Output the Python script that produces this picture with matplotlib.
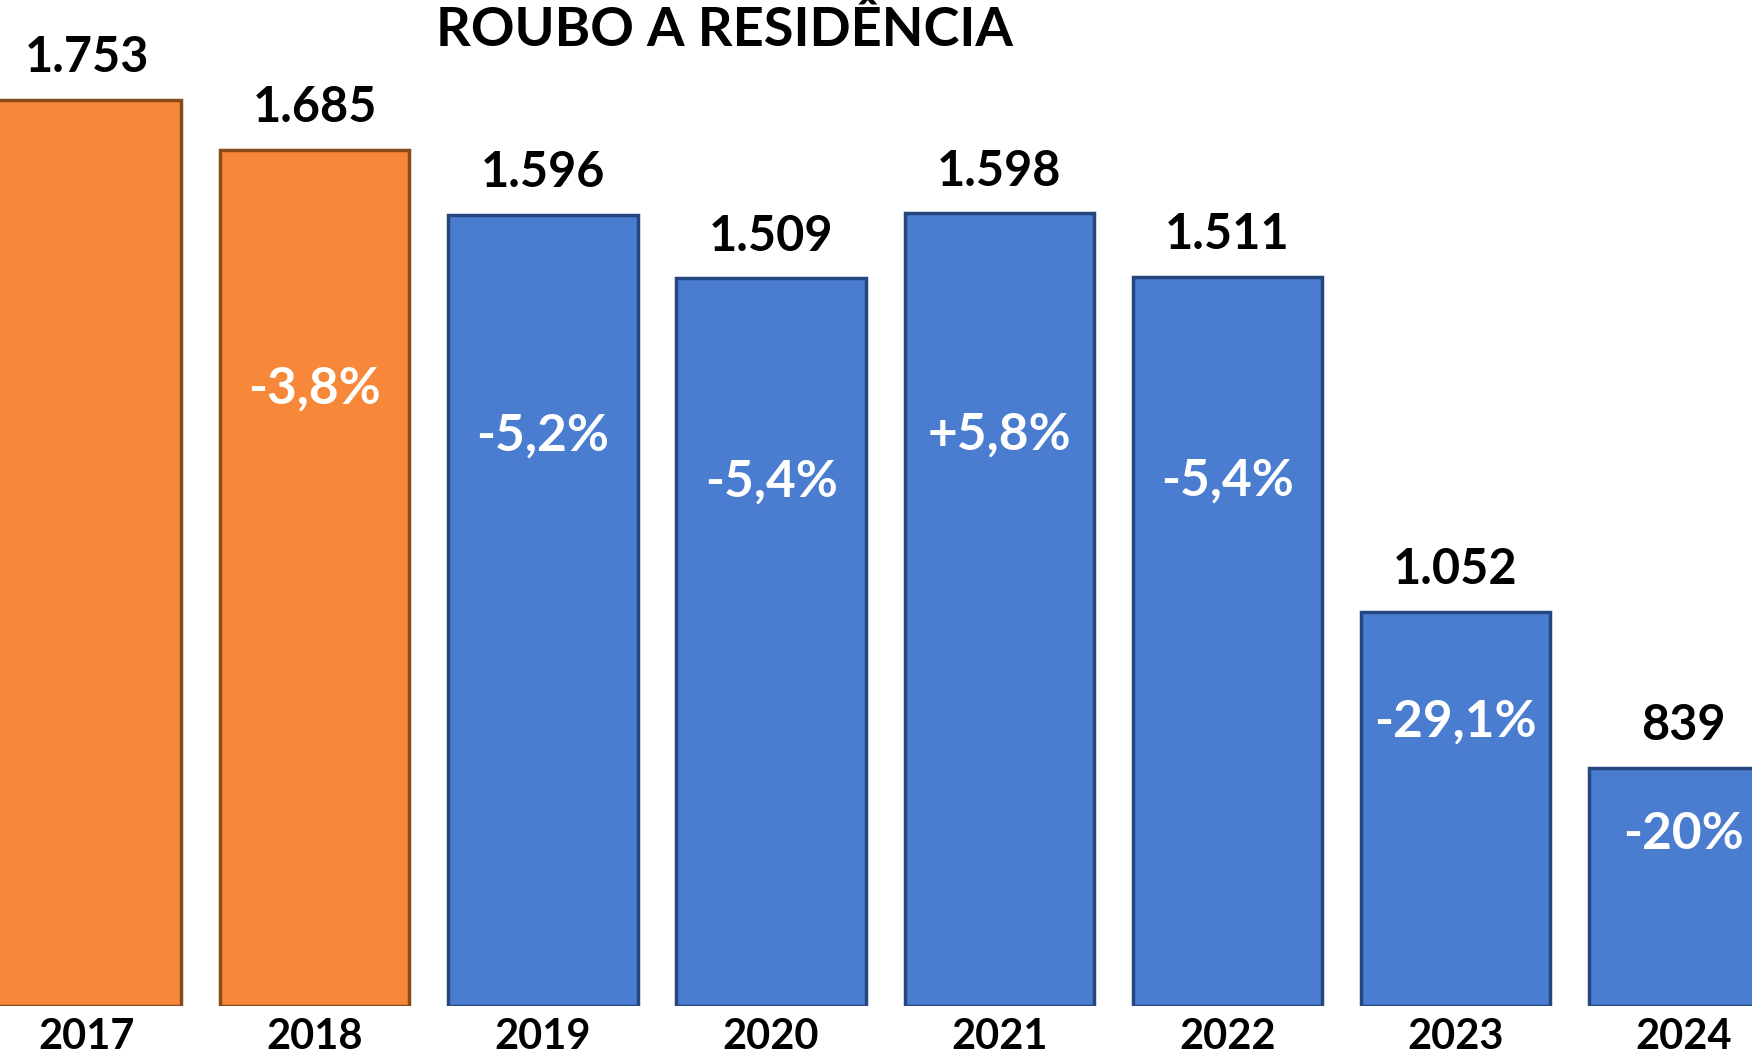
import numpy as np
import matplotlib
matplotlib.use("Agg")
import matplotlib.pyplot as plt

plt.rcParams['font.family'] = ['Lato', 'DejaVu Sans']

# data
years = ["2017", "2018", "2019", "2020", "2021", "2022", "2023", "2024"]
values = [1753, 1685, 1596, 1509, 1598, 1511, 1052, 839]
value_labels = ["1.753", "1.685", "1.596", "1.509", "1.598", "1.511", "1.052", "839"]
pct_labels = ["", "-3,8%", "-5,2%", "-5,4%", "+5,8%", "-5,4%", "-29,1%", "-20%"]
colors = ["#F7883A", "#F7883A"] + ["#4A7DCF"] * 6
edges = ["#8A4A1A", "#8A4A1A"] + ["#25467E"] * 6

base = 513  # the bars do not start from zero in the original

fig = plt.figure(figsize=(17.52, 10.64), dpi=100)
ax = fig.add_axes([0, 58 / 1064, 1, 1006 / 1064])

x = np.arange(len(years))
heights = np.array(values) - base
bars = ax.bar(x, heights, bottom=base, width=0.83, color=colors,
              edgecolor=edges, linewidth=2.5)

ax.set_xlim(-0.38, 7.30)
ax.set_ylim(base, 1890)
ax.axis("off")

for i, v in enumerate(values):
    ax.annotate(value_labels[i], (x[i], v), xytext=(0, 20), textcoords="offset points",
                ha="center", va="baseline", fontsize=35, fontweight="bold", color="black")
    ax.annotate(years[i], (x[i], base), xytext=(0, -31), textcoords="offset points",
                ha="center", va="baseline", fontsize=30, fontweight="bold", color="black",
                annotation_clip=False)
    if pct_labels[i]:
        ax.text(x[i], base + 0.72 * (v - base), pct_labels[i], ha="center", va="center",
                fontsize=37, fontweight="bold", color="white")

fig.text(724 / 1752, 1 - 46 / 1064, "ROUBO A RESIDÊNCIA", ha="center", va="baseline",
         fontsize=39, fontweight="bold", color="black")

fig.savefig("out.png", dpi=100)
